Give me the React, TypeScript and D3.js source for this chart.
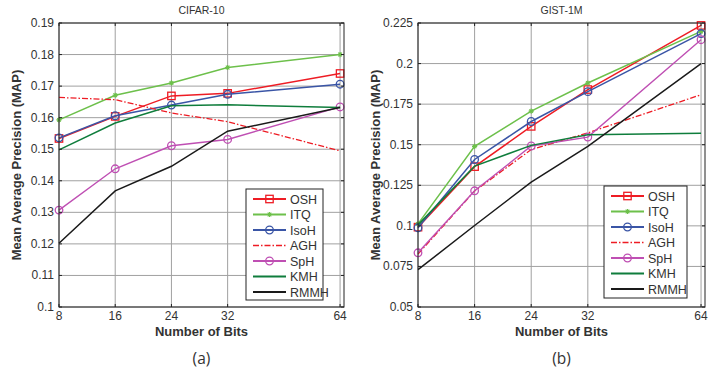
import React, { useEffect, useRef } from "react";
import * as d3 from "d3";

const BITS = ["8", "16", "24", "32", "64"];
const BIT_POS = [0, 1, 2, 3, 5];
const METHODS = ["OSH", "ITQ", "IsoH", "AGH", "SpH", "KMH", "RMMH"];

const CIFAR_OSH = [0.1534, 0.1604, 0.1669, 0.1677, 0.174];
const CIFAR_ITQ = [0.1593, 0.1671, 0.171, 0.1759, 0.18];
const CIFAR_ISOH = [0.1536, 0.1606, 0.164, 0.1674, 0.1706];
const CIFAR_AGH = [0.1664, 0.1657, 0.1615, 0.1587, 0.1495];
const CIFAR_SPH = [0.1307, 0.1438, 0.1511, 0.1531, 0.1634];
const CIFAR_KMH = [0.1498, 0.1583, 0.1638, 0.1641, 0.1632];
const CIFAR_RMMH = [0.1202, 0.1368, 0.1446, 0.1557, 0.1632];
const CIFAR_TICKS = [0.1, 0.11, 0.12, 0.13, 0.14, 0.15, 0.16, 0.17, 0.18, 0.19];

const GIST_OSH = [0.0992, 0.1365, 0.1613, 0.184, 0.2235];
const GIST_ITQ = [0.1012, 0.149, 0.1707, 0.188, 0.2198];
const GIST_ISOH = [0.0988, 0.1409, 0.1643, 0.1827, 0.2185];
const GIST_AGH = [0.0826, 0.1215, 0.147, 0.1573, 0.1808];
const GIST_SPH = [0.0834, 0.1216, 0.1492, 0.1547, 0.2147];
const GIST_KMH = [0.1006, 0.1368, 0.1496, 0.1562, 0.157];
const GIST_RMMH = [0.073, 0.1002, 0.127, 0.149, 0.2];
const GIST_TICKS = [0.05, 0.075, 0.1, 0.125, 0.15, 0.175, 0.2, 0.225];

const STYLES: Record<string, { color: string; dash?: string; marker?: string; width: number }> = {
  OSH: { color: "#ee1c24", marker: "square", width: 1.5 },
  ITQ: { color: "#6dc04b", marker: "star", width: 1.5 },
  IsoH: { color: "#3a55a6", marker: "circle", width: 1.5 },
  AGH: { color: "#ee1c24", dash: "6,2,1.5,2", width: 1.3 },
  SpH: { color: "#bf4fb3", marker: "circle", width: 1.4 },
  KMH: { color: "#0f7d3c", width: 1.5 },
  RMMH: { color: "#1a1a1a", width: 1.5 },
};

const FONT = "'Liberation Sans', Arial, sans-serif";

type Panel = {
  left: number;
  right: number;
  top: number;
  bottom: number;
  title: string;
  caption: string;
  ticks: number[];
  fmt: (v: number) => string;
  series: number[][];
  legend: { x: number; y: number; w: number; h: number };
};

function drawMarker(g: any, kind: string | undefined, x: number, y: number, color: string) {
  if (kind === "square") {
    g.append("rect").attr("x", x - 3.7).attr("y", y - 3.7).attr("width", 7.4).attr("height", 7.4)
      .attr("fill", "none").attr("stroke", color).attr("stroke-width", 1.3);
  } else if (kind === "circle") {
    g.append("circle").attr("cx", x).attr("cy", y).attr("r", 3.8)
      .attr("fill", "none").attr("stroke", color).attr("stroke-width", 1.3);
  } else if (kind === "star") {
    const s = 2.6;
    const p = `M${x - s},${y}L${x + s},${y}M${x},${y - s}L${x},${y + s}M${x - s * 0.7},${y - s * 0.7}L${x + s * 0.7},${y + s * 0.7}M${x - s * 0.7},${y + s * 0.7}L${x + s * 0.7},${y - s * 0.7}`;
    g.append("path").attr("d", p).attr("stroke", color).attr("stroke-width", 1.1);
  }
}

function drawPanel(svg: any, p: Panel) {
  const x = d3.scaleLinear().domain([0, 5.07]).range([p.left, p.right]);
  const y = d3.scaleLinear().domain([p.ticks[0], p.ticks[p.ticks.length - 1]]).range([p.bottom, p.top]);
  const g = svg.append("g");

  // grid
  BIT_POS.forEach((b) => {
    g.append("line").attr("x1", x(b)).attr("x2", x(b)).attr("y1", p.top).attr("y2", p.bottom)
      .attr("stroke", "#a0a0a0").attr("stroke-width", 1);
  });
  p.ticks.forEach((t) => {
    g.append("line").attr("x1", p.left).attr("x2", p.right).attr("y1", y(t)).attr("y2", y(t))
      .attr("stroke", "#a0a0a0").attr("stroke-width", 1);
  });

  // series
  METHODS.forEach((m, i) => {
    const st = STYLES[m];
    const vals = p.series[i];
    const line = d3.line<number>().x((_, j) => x(BIT_POS[j])).y((v) => y(v));
    g.append("path").attr("d", line(vals)).attr("fill", "none").attr("stroke", st.color)
      .attr("stroke-width", st.width).attr("stroke-dasharray", st.dash || null);
    vals.forEach((v, j) => drawMarker(g, st.marker, x(BIT_POS[j]), y(v), st.color));
  });

  // box and inner ticks
  g.append("rect").attr("x", p.left).attr("y", p.top).attr("width", p.right - p.left)
    .attr("height", p.bottom - p.top).attr("fill", "none").attr("stroke", "#222").attr("stroke-width", 1);
  p.ticks.forEach((t) => {
    g.append("line").attr("x1", p.left).attr("x2", p.left + 3).attr("y1", y(t)).attr("y2", y(t)).attr("stroke", "#222");
    g.append("line").attr("x1", p.right).attr("x2", p.right - 3).attr("y1", y(t)).attr("y2", y(t)).attr("stroke", "#222");
    g.append("text").attr("x", p.left - 5).attr("y", y(t) + 4).attr("text-anchor", "end")
      .attr("font-family", FONT).attr("font-size", 12).attr("fill", "#333").text(p.fmt(t));
  });
  BIT_POS.forEach((b, j) => {
    g.append("line").attr("x1", x(b)).attr("x2", x(b)).attr("y1", p.bottom).attr("y2", p.bottom - 3).attr("stroke", "#222");
    g.append("line").attr("x1", x(b)).attr("x2", x(b)).attr("y1", p.top).attr("y2", p.top + 3).attr("stroke", "#222");
    g.append("text").attr("x", x(b)).attr("y", p.bottom + 13).attr("text-anchor", "middle")
      .attr("font-family", FONT).attr("font-size", 12).attr("fill", "#333").text(BITS[j]);
  });

  const cx = (p.left + p.right) / 2;
  g.append("text").attr("x", cx).attr("y", 14).attr("text-anchor", "middle")
    .attr("font-family", FONT).attr("font-size", 10.5).attr("fill", "#333").text(p.title);
  g.append("text").attr("x", cx).attr("y", 336).attr("text-anchor", "middle")
    .attr("font-family", FONT).attr("font-size", 13).attr("font-weight", "bold").attr("fill", "#333").text("Number of Bits");
  g.append("text").attr("x", cx).attr("y", 364).attr("text-anchor", "middle")
    .attr("font-family", "'Open Sans', sans-serif").attr("font-size", 15.5).attr("fill", "#333").text(p.caption);
  const cy = (p.top + p.bottom) / 2;
  g.append("text").attr("transform", `translate(${p.left - 38},${cy}) rotate(-90)`).attr("text-anchor", "middle")
    .attr("font-family", FONT).attr("font-size", 13).attr("font-weight", "bold").attr("fill", "#333")
    .text("Mean Average Precision (MAP)");

  // legend
  const L = p.legend;
  const lg = g.append("g");
  lg.append("rect").attr("x", L.x).attr("y", L.y).attr("width", L.w).attr("height", L.h)
    .attr("fill", "#fff").attr("stroke", "#222").attr("stroke-width", 1);
  METHODS.forEach((m, i) => {
    const st = STYLES[m];
    const ly = L.y + 10 + i * 15.5;
    lg.append("line").attr("x1", L.x + 7).attr("x2", L.x + 40).attr("y1", ly).attr("y2", ly)
      .attr("stroke", st.color).attr("stroke-width", st.width + 0.4).attr("stroke-dasharray", st.dash || null);
    drawMarker(lg, st.marker, L.x + 23.5, ly, st.color);
    lg.append("text").attr("x", L.x + 44).attr("y", ly + 4.5).attr("font-family", FONT).attr("font-size", 12.5)
      .attr("fill", "#333").text(m);
  });
}

export default function App() {
  const ref = useRef<SVGSVGElement>(null);
  useEffect(() => {
    const svg = d3.select(ref.current);
    svg.selectAll("*").remove();
    drawPanel(svg, {
      left: 59, right: 344, top: 23, bottom: 307,
      title: "CIFAR-10", caption: "(a)",
      ticks: CIFAR_TICKS,
      fmt: (v) => (v === 0.1 ? "0.1" : d3.format(".2f")(v)),
      series: [CIFAR_OSH, CIFAR_ITQ, CIFAR_ISOH, CIFAR_AGH, CIFAR_SPH, CIFAR_KMH, CIFAR_RMMH],
      legend: { x: 246, y: 189, w: 77, h: 111 },
    });
    drawPanel(svg, {
      left: 418, right: 705, top: 23, bottom: 307,
      title: "GIST-1M", caption: "(b)",
      ticks: GIST_TICKS,
      fmt: (v) => String(+v.toFixed(3)),
      series: [GIST_OSH, GIST_ITQ, GIST_ISOH, GIST_AGH, GIST_SPH, GIST_KMH, GIST_RMMH],
      legend: { x: 604, y: 186, w: 83, h: 112 },
    });
  }, []);
  return (
    <svg ref={ref} width={718} height={373}
      style={{ position: "absolute", left: 0, top: 0, background: "#fff" }} />
  );
}
